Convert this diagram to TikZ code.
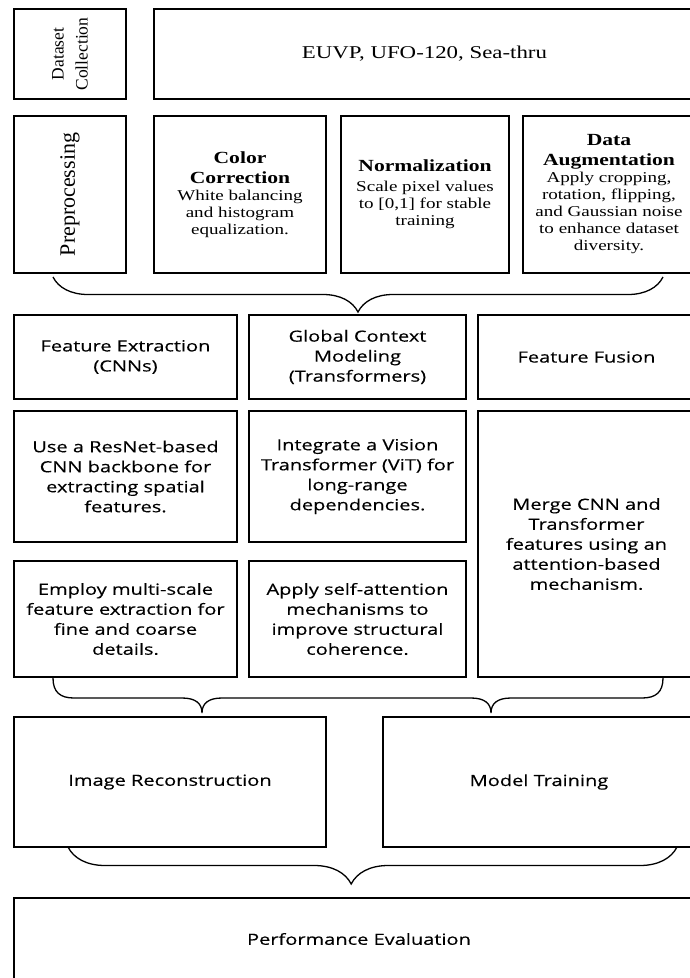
\documentclass[tikz,border=0pt]{standalone}
\usepackage{fontspec}
\setmainfont{Liberation Serif}
\newfontfamily\wideserif[FakeStretch=1.27]{Liberation Serif}
\newfontfamily\widesans[FakeStretch=1.3, FakeBold=0.3]{Open Sans}
\usetikzlibrary{decorations.pathreplacing}

\newcommand{\stagehead}[1]{{\bfseries\fontsize{17}{20}\selectfont #1}}

\tikzset{
	stage/.style={draw, line width=1.6pt, inner sep=0pt, align=center},
	serifbody/.style={font=\wideserif\fontsize{15}{17}\selectfont},
	sansbody/.style={font=\widesans\fontsize{15.4}{20}\selectfont},
	curly/.style={decorate, line width=1.3pt, decoration={brace, mirror, amplitude=#1}},
}

\begin{document}
\begin{tikzpicture}[x=1pt, y=-1pt]
		\useasboundingbox (0,0) rectangle (689,978);
		\node[stage, rotate=90, minimum width=90, minimum height=112, font=\fontsize{17.5}{24}\selectfont] (dcol) at (70,54) {Dataset\\Collection};
		\node[stage, minimum width=541, minimum height=90, font=\wideserif\fontsize{18}{21}\selectfont] (euvp) at (424.5,54) {EUVP, UFO-120, Sea-thru};
		\node[stage, rotate=90, minimum width=157, minimum height=112, font=\fontsize{22}{25}\selectfont] (prep) at (70,194.5) {Preprocessing};
		\node[stage, serifbody, minimum width=172, minimum height=157] (colcor) at (240,194.5) {\stagehead{Color}\\[3pt]\stagehead{Correction}\\White balancing\\and histogram\\equalization.};
		\node[stage, serifbody, minimum width=168, minimum height=157] (norm) at (425,194.5) {\stagehead{Normalization}\\[3pt]Scale pixel values\\to [0,1] for stable\\training};
		\node[stage, serifbody, minimum width=172, minimum height=157] (augm) at (609,194.5) {\stagehead{Data}\\[3pt]\stagehead{Augmentation}\\Apply cropping,\\rotation, flipping,\\and Gaussian noise\\to enhance dataset\\diversity.};
		\coordinate (b1l) at (53,277);
		\coordinate (b1r) at (663,277);
		\draw[curly=35] (b1l) -- (b1r);
		\node[stage, sansbody, minimum width=223, minimum height=84] (cnn) at (125.5,357) {Feature Extraction\\(CNNs)};
		\node[stage, sansbody, minimum width=217, minimum height=84] (glob) at (357.5,357) {Global Context\\Modeling\\(Transformers)};
		\node[stage, sansbody, minimum width=217, minimum height=84] (fuse) at (586.5,357) {Feature Fusion};
		\node[stage, sansbody, minimum width=223, minimum height=131] (resnet) at (125.5,476.5) {Use a ResNet-based\\CNN backbone for\\extracting spatial\\features.};
		\node[stage, sansbody, minimum width=217, minimum height=131] (vit) at (357.5,476.5) {Integrate a Vision\\Transformer (ViT) for\\long-range\\dependencies.};
		\node[stage, sansbody, minimum width=223, minimum height=116] (multi) at (125.5,619) {Employ multi-scale\\feature extraction for\\fine and coarse\\details.};
		\node[stage, sansbody, minimum width=217, minimum height=116] (selfatt) at (357.5,619) {Apply self-attention\\mechanisms to\\improve structural\\coherence.};
		\node[stage, sansbody, minimum width=217, minimum height=266] (merge) at (586.5,544) {Merge CNN and\\Transformer\\features using an\\attention-based\\mechanism.};
		\coordinate (b2l) at (53,678);
		\coordinate (b2r) at (663,678);
		\draw[line width=1.3pt] (b2l) .. controls (53,692) and (60,698) .. (74,698) -- (182,698) .. controls (195,698) and (202,703) .. (202,713) .. controls (202,703) and (209,698) .. (222,698) -- (471,698) .. controls (484,698) and (491,703) .. (491,713) .. controls (491,703) and (498,698) .. (511,698) -- (642,698) .. controls (656,698) and (663,692) .. (b2r);
		\node[stage, sansbody, minimum width=312, minimum height=130] (recon) at (170,782) {Image Reconstruction};
		\node[stage, sansbody, minimum width=312, minimum height=130] (train) at (539,782) {Model Training};
		\coordinate (b3l) at (68,847);
		\coordinate (b3r) at (677,847);
		\draw[curly=37, decoration={aspect=0.465}] (b3l) -- (b3r);
		\node[stage, sansbody, minimum width=690, minimum height=82] (perf) at (359,939) {Performance Evaluation};
	\end{tikzpicture}
\end{document}
